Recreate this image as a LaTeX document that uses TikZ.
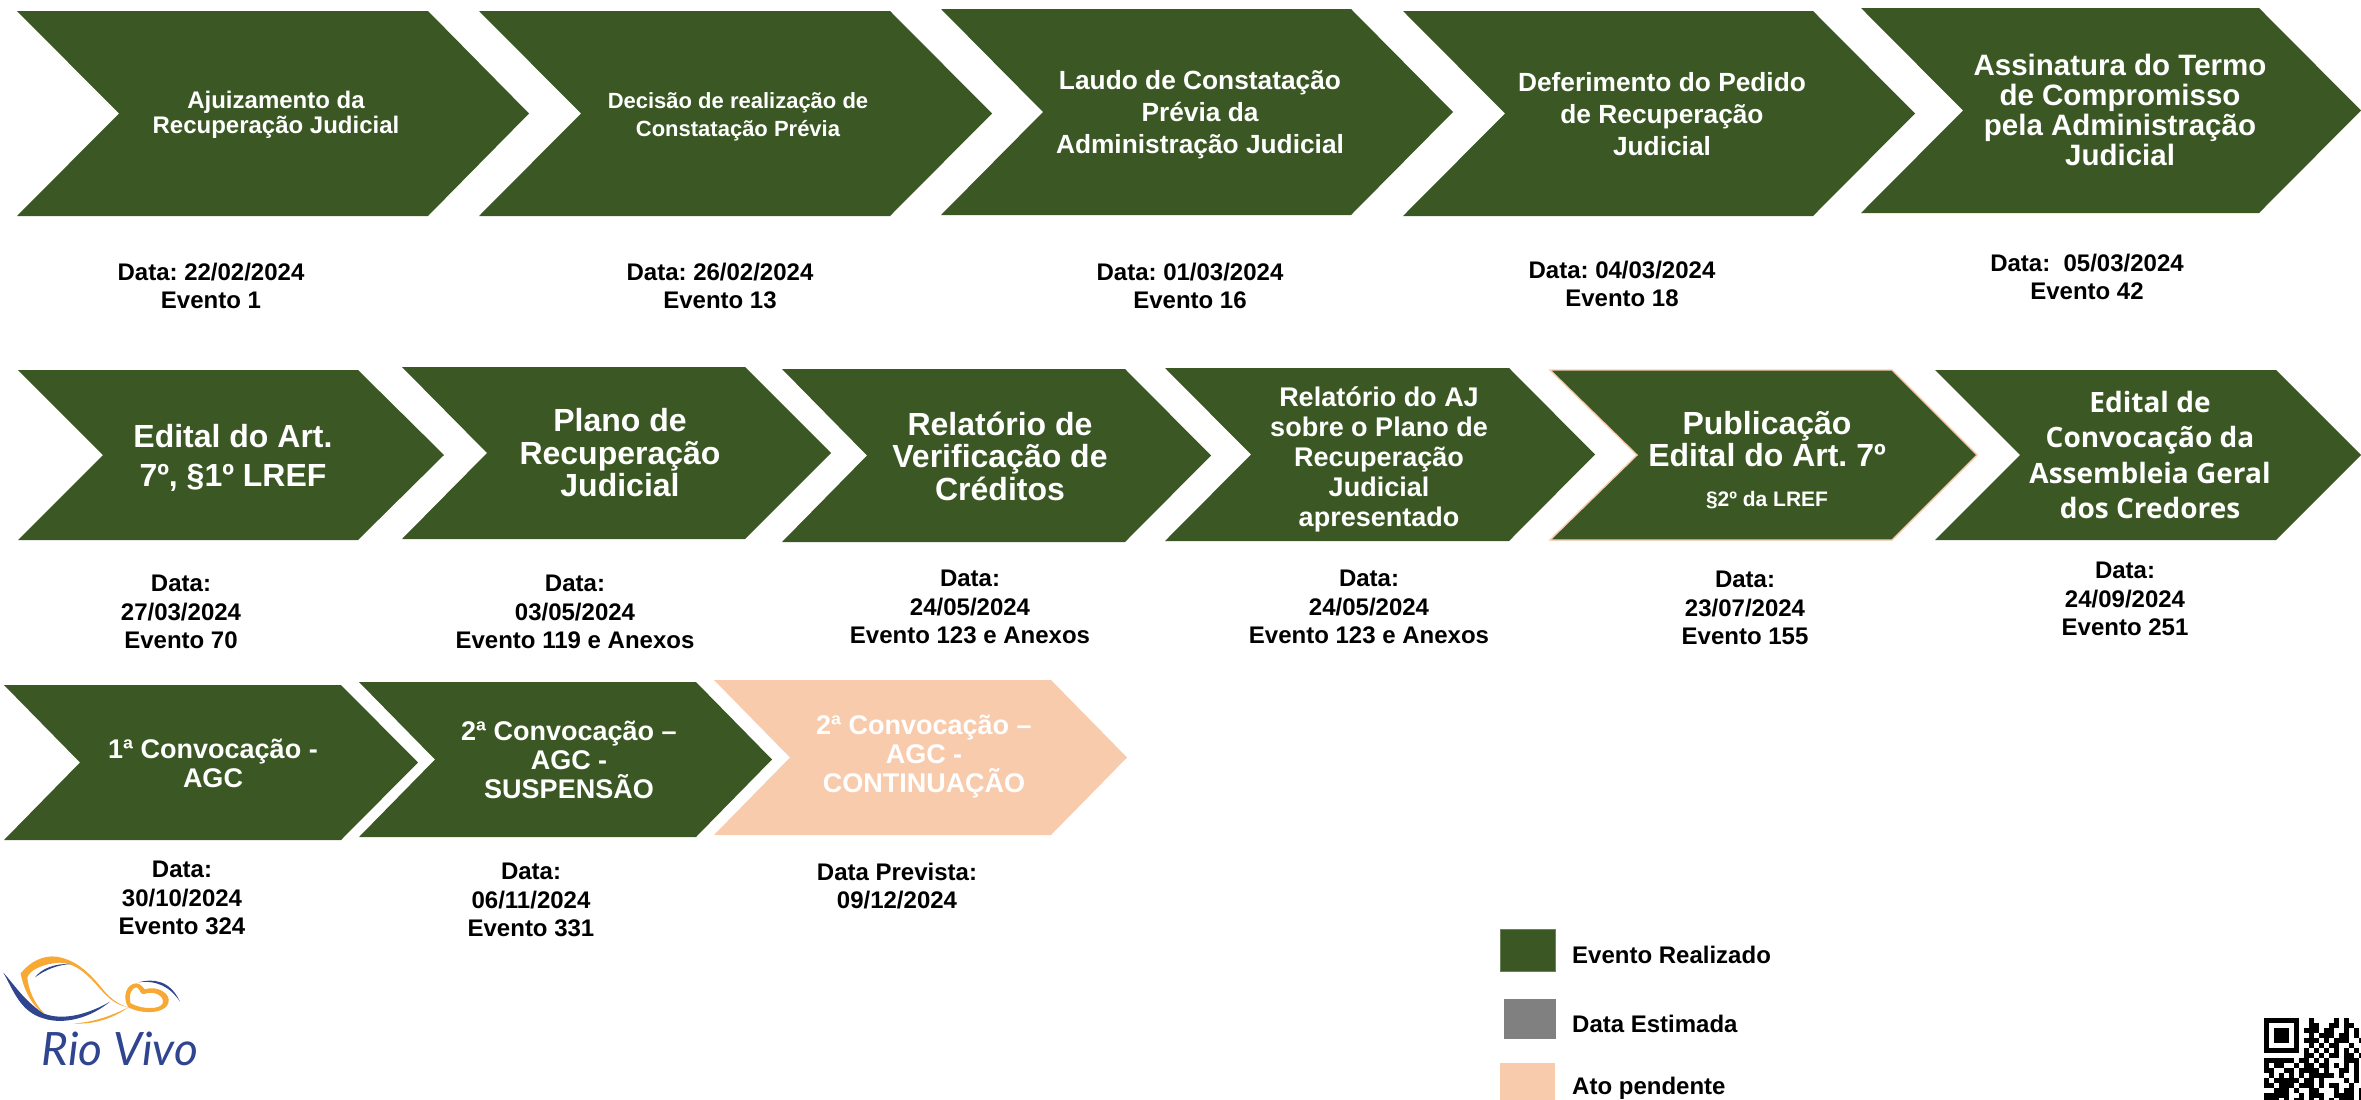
\documentclass[tikz,border=0pt]{standalone}
\usepackage{fontspec}
\setmainfont{Liberation Sans}
\newfontfamily\opensansf{Open Sans}
\newfontfamily\latof{Lato}
\AtBeginDocument{\frenchspacing}
\definecolor{evgreen}{HTML}{3B5824}
\definecolor{peach}{HTML}{F8CBAD}
\definecolor{evgray}{HTML}{808080}
\definecolor{logoblue}{HTML}{2F4590}
\definecolor{logoorange}{HTML}{F7A934}
\newcount\qrc
\def\qrrow#1#2{\qrc=0 \def\qry{#1}\qrscan#2\relax}
\def\qrscan#1{\ifx#1\relax\else\if#1x\fill[black] ({2264+5*\the\qrc},{1018+5*\qry}) rectangle +(5,5);\fi\advance\qrc by 1 \expandafter\qrscan\fi}
% name, left, notch, shoulder, tip, top, bottom, style
\newcommand\chev[8]{\path[#8] (#2,#6) -- (#4,#6) -- (#5,{(#6+#7)/2}) -- (#4,#7) -- (#2,#7) -- (#3,{(#6+#7)/2}) -- cycle;
 \coordinate (#1) at ({(#3+#4)/2},{(#6+#7)/2});}
\tikzset{
 x=1pt,y=-1pt,
 done/.style={fill=evgreen},
 donepeach/.style={fill=evgreen,draw=peach,line width=1.4pt},
 pending/.style={fill=peach},
 lbl/.style={text=white,align=center,inner sep=0pt,outer sep=0pt},
 dat/.style={text=black,align=center,inner sep=0pt,outer sep=0pt,font=\fontsize{24}{28.5}\selectfont\bfseries},
 leg/.style={text=black,anchor=west,inner sep=0pt,font=\fontsize{24}{28}\selectfont\bfseries},
 s22/.style={font=\fontsize{22}{28}\selectfont\bfseries},
 s24/.style={font=\fontsize{24}{25}\selectfont\bfseries},
 s26l/.style={font=\fontsize{26.3}{32}\selectfont\bfseries},
 s29/.style={font=\fontsize{29.5}{30}\selectfont\bfseries},
 s27b/.style={font=\fontsize{27}{30}\selectfont\bfseries},
 s34/.style={font=\fontsize{32}{39}\selectfont\bfseries},
 s32/.style={font=\fontsize{32}{32.5}\selectfont\bfseries},
 s26/.style={font=\fontsize{27}{29}\selectfont\bfseries},
 os/.style={font=\fontsize{28}{35.3}\selectfont\opensansf\bfseries},
}
\begin{document}
\begin{tikzpicture}
\useasboundingbox (0,0) rectangle (2361,1100);
% row 1
\chev{a1}{17}{119}{428}{529}{11}{216}{done}
\chev{a2}{479}{581}{890}{992}{11}{216}{done}
\chev{a3}{941}{1043}{1351}{1453}{9}{215}{done}
\chev{a4}{1403}{1505}{1813}{1915}{11}{216}{done}
\chev{a5}{1861}{1963}{2259}{2361}{8}{213}{done}
% row 2
\chev{b1}{18}{103}{358}{444}{370}{540}{done}
\chev{b2}{402}{487}{745}{831}{367}{539}{done}
\chev{b3}{782}{867}{1125}{1211}{369}{542}{done}
\chev{b4}{1165}{1251}{1509}{1595}{368}{541}{done}
\chev{b5}{1550}{1637}{1892}{1977}{370}{540}{donepeach}
\chev{b6}{1935}{2020}{2276}{2361}{370}{540}{done}
% row 3
\chev{c1}{4}{80}{341}{418}{685}{840}{done}
\chev{c2}{359}{435}{696}{772}{682}{837}{done}
\chev{c3}{714}{790}{1051}{1127}{680}{835}{pending}
% chevron texts
\node[lbl,s24] (ta1) at (276,114.5) {Ajuizamento da\\Recuperação Judicial};
\node[lbl,s22] (ta2) at (738,117) {Decisão de realização de\\Constatação Prévia};
\node[lbl,s26l] (ta3) at (1200,115) {Laudo de Constatação\\Prévia da\\Administração Judicial};
\node[lbl,s26l] (ta4) at (1662,114) {Deferimento do Pedido\\de Recuperação\\Judicial};
\node[lbl,s29] (ta5) at (2120,110) {Assinatura do Termo\\de Compromisso\\pela Administração\\Judicial};
\node[lbl,s34] (tb1) at (233,458) {Edital do Art.\\7º, §1º LREF};
\node[lbl,s32] (tb2) at (620,453) {Plano de\\Recuperação\\Judicial};
\node[lbl,s32] (tb3) at (1000,456) {Relatório de\\Verificação de\\Créditos};
\node[lbl,s27b] (tb4) at (1379,459) {Relatório do AJ\\sobre o Plano de\\Recuperação\\Judicial\\apresentado};
\node[lbl,s32] (tb5) at (1767,439) {Publicação\\Edital do Art. 7º};
\node[lbl,font=\fontsize{21}{24}\selectfont\bfseries] (tb5s) at (1767,500) {§2º da LREF};
\node[lbl,os] (tb6) at (2150,455) {Edital de\\Convocação da\\Assembleia Geral\\dos Credores};
\node[lbl,s26] (tc1) at (213,763) {1ª Convocação -\\AGC};
\node[lbl,s26] (tc2) at (569,760) {2ª Convocação –\\AGC -\\SUSPENSÃO};
\node[lbl,s26] (tc3) at (924,757) {2ª Convocação –\\AGC -\\CONTINUAÇÃO};
% dates row 1
\node[dat] (da1) at (211,286) {Data: 22/02/2024\\Evento 1};
\node[dat] (da2) at (720,286) {Data: 26/02/2024\\Evento 13};
\node[dat] (da3) at (1190,286) {Data: 01/03/2024\\Evento 16};
\node[dat] (da4) at (1622,284) {Data: 04/03/2024\\Evento 18};
\node[dat] (da5) at (2087,277) {Data:\ \ 05/03/2024\\Evento 42};
% dates row 2
\node[dat] (db1) at (181,612) {Data:\\27/03/2024\\Evento 70};
\node[dat] (db2) at (575,612) {Data:\\03/05/2024\\Evento 119 e Anexos};
\node[dat] (db3) at (970,607) {Data:\\24/05/2024\\Evento 123 e Anexos};
\node[dat] (db4) at (1369,607) {Data:\\24/05/2024\\Evento 123 e Anexos};
\node[dat] (db5) at (1745,608) {Data:\\23/07/2024\\Evento 155};
\node[dat] (db6) at (2125,599) {Data:\\24/09/2024\\Evento 251};
% dates row 3
\node[dat] (dc1) at (182,898) {Data:\\30/10/2024\\Evento 324};
\node[dat] (dc2) at (531,900) {Data:\\06/11/2024\\Evento 331};
\node[dat] (dc3) at (897,886) {Data Prevista:\\09/12/2024};
% legend
\node[fill=evgreen,draw=evgreen!75!white,line width=.8pt,minimum width=55pt,minimum height=42pt,inner sep=0pt] (l1) at (1527.5,950) {};
\node[fill=evgray,minimum width=52pt,minimum height=40pt,inner sep=0pt] (l2) at (1530,1019) {};
\node[fill=peach,minimum width=55pt,minimum height=37pt,inner sep=0pt] (l3) at (1527.5,1081.5) {};
\node[leg] (lt1) at (1572,955) {Evento Realizado};
\node[leg] (lt2) at (1572,1024) {Data Estimada};
\node[leg] (lt3) at (1572,1088) {Ato pendente};
% logo
\begin{scope}[shift={(0,950)},x=0.3333pt,y=-0.3333pt]
\fill[logoblue] (10,68) .. controls (40,100) and (70,150) .. (130,190) .. controls (190,215) and (270,190) .. (330,155) .. controls (270,205) and (190,225) .. (130,205) .. controls (60,185) and (40,120) .. (10,68) -- cycle;
\fill[logoorange] (62,70) .. controls (90,35) and (130,15) .. (170,20) .. controls (230,30) and (270,70) .. (310,120) .. controls (335,150) and (360,165) .. (385,172) .. controls (345,165) and (320,140) .. (290,105) .. controls (250,60) and (210,30) .. (160,40) .. controls (125,45) and (90,60) .. (82,82) .. controls (85,120) and (105,165) .. (135,192) .. controls (95,170) and (70,115) .. (62,70) -- cycle;
\fill[logoblue] (105,82) .. controls (125,55) and (165,40) .. (212,42) .. controls (170,45) and (135,60) .. (105,82) -- cycle;
\fill[logoorange] (220,220) .. controls (280,218) and (340,195) .. (385,172) .. controls (340,205) and (280,225) .. (220,220) -- cycle;
\fill[logoorange,even odd rule] (385,172) .. controls (365,140) and (380,100) .. (410,100) .. controls (425,102) and (430,115) .. (435,118) .. controls (470,105) and (515,130) .. (505,160) .. controls (495,190) and (430,195) .. (385,172) -- cycle
 (392,160) .. controls (385,135) and (395,112) .. (410,112) .. controls (420,115) and (420,135) .. (432,132) .. controls (465,120) and (495,140) .. (488,160) .. controls (480,178) and (430,180) .. (392,160) -- cycle;
\fill[logoblue] (415,97) .. controls (460,85) and (510,90) .. (540,155) .. controls (510,110) and (470,90) .. (415,97) -- cycle;
\end{scope}
\node[text=logoblue,anchor=base,inner sep=0pt,font=\fontsize{46}{46}\selectfont\latof\itshape] (logo) at (120,1065) {Rio Vivo};
% QR
\begin{scope}
\clip (2255,1010) rectangle (2361,1100);
\qrrow{0}{xxxxxxx..x....x.x...}
\qrrow{1}{x.....x..xx..xx.xx..}
\qrrow{2}{x.xxx.x.xxx.xx..x.x.}
\qrrow{3}{x.xxx.x..x.xxx.xx.x.}
\qrrow{4}{x.xxx.x.xxx.x.xxx..x}
\qrrow{5}{x.....x..x.x.xx..x..}
\qrrow{6}{xxxxxxx.x.x.x.x.x.x.}
\qrrow{7}{........xx.x.xx.xx.x}
\qrrow{8}{xxxxxx.xx.x.x...xxx.}
\qrrow{9}{x.xx..x.xx.xx.x.x.x.}
\qrrow{10}{xx..xx.xxxx.x..xx.x.}
\qrrow{11}{.x.x.x.x.xxxxx.x..x.}
\qrrow{12}{x.xxxxx.xx.x....x.x.}
\qrrow{13}{xx.xxx.xxx.x.xx..x..}
\qrrow{14}{..xxx.x..xx...x.xx.x}
\qrrow{15}{xxxxx..x.xxx..xxxx.x}
\qrrow{16}{xxx.x.xx.x.x.x.xxx.x}
\end{scope}
\end{tikzpicture}
\end{document}
